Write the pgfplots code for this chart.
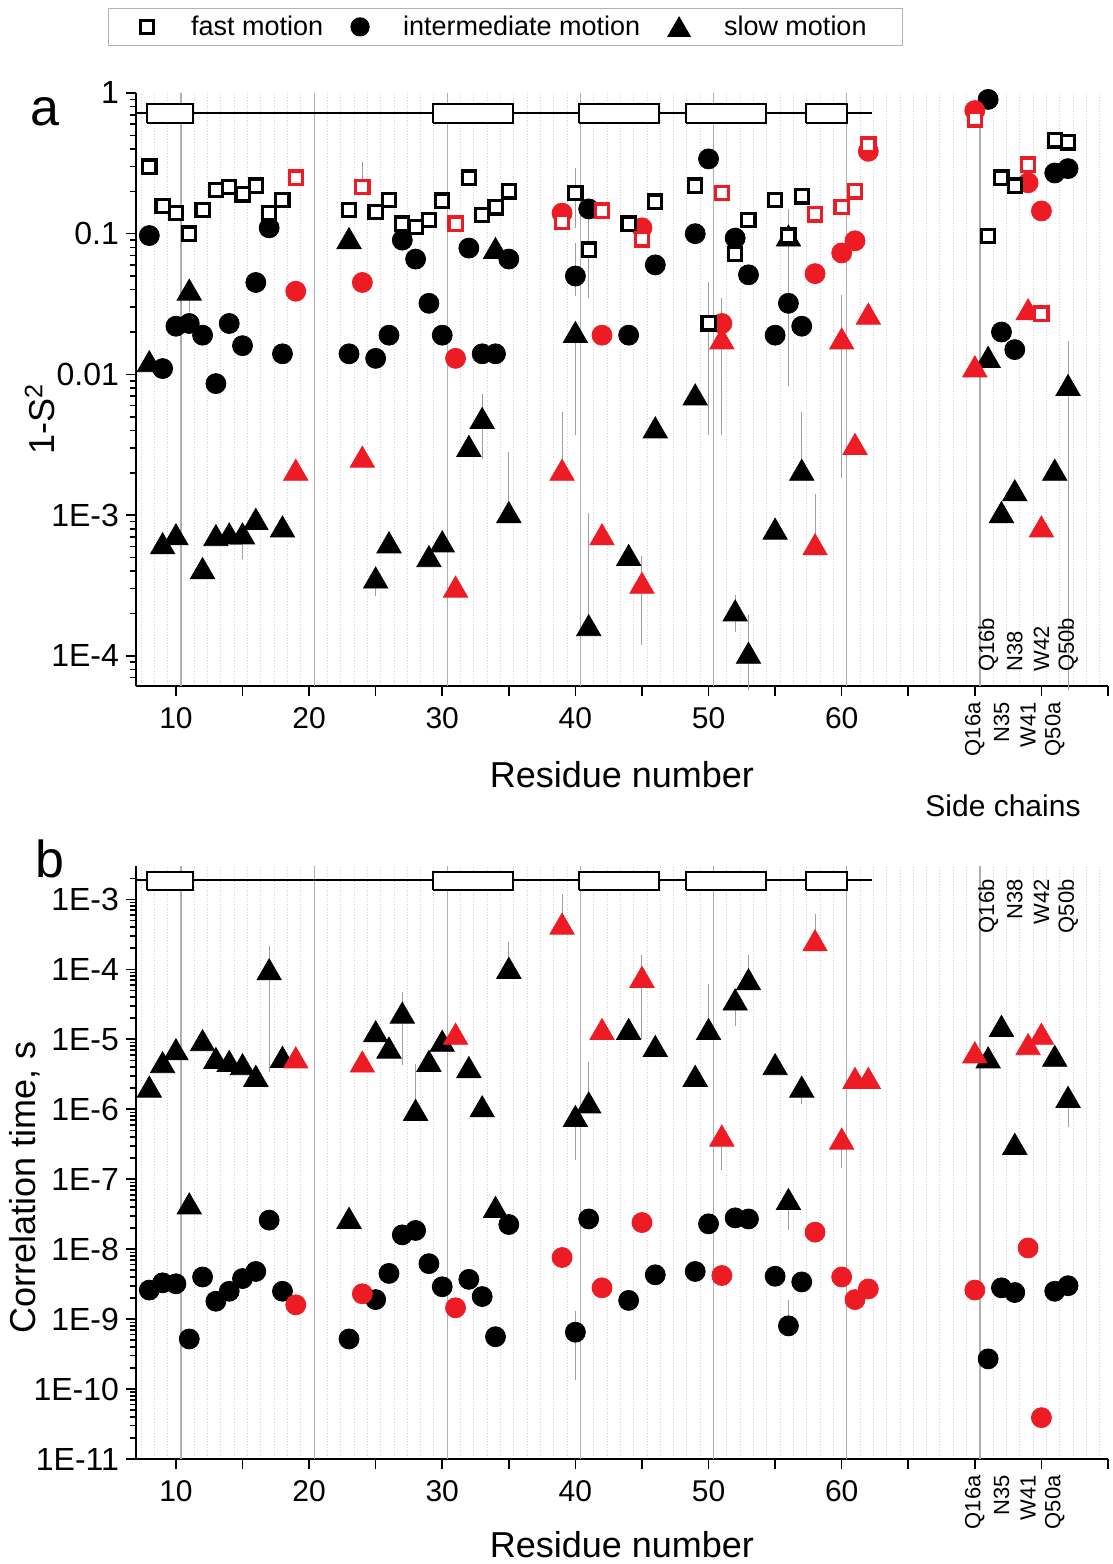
\documentclass[border=0pt]{standalone}
\usepackage{fontspec}
\setmainfont{Liberation Sans}
\usepackage{pgfplots}
\pgfplotsset{compat=1.18}
\definecolor{myred}{RGB}{237,28,36}
\definecolor{gridmaj}{RGB}{175,175,175}
\definecolor{gridmin}{RGB}{210,210,210}
\newcommand{\sidefont}{\fontsize{11}{13}\selectfont}
\begin{document}
\begin{tikzpicture}
\path[use as bounding box] (-68pt,-52.5pt) rectangle (488.5pt,729.5pt);
% ---------------- panel a ----------------
\begin{axis}[
  at={(0pt,386.5pt)}, anchor=south west,
  scale only axis, width=486pt, height=296.5pt,
  xmin=7, xmax=80, ymode=log, ymin=6.1e-5, ymax=1, clip=false,
  axis x line*=bottom, axis y line*=left,
  axis line style={line width=1pt, black},
  tick align=outside, major tick length=5pt, minor tick length=0pt,
  tick style={black, line width=0.8pt},
  xtick={10,15,...,80},
  xticklabels={10,,20,,30,,40,,50,,60,,,,},
  minor xtick={7.38,8.38,...,79.38},
  xminorgrids=true,
  minor x grid style={gridmin, densely dotted, line width=0.5pt},
  extra x ticks={10.38,20.38,30.38,40.38,50.38,60.38,70.38},
  extra x tick labels={},
  extra x tick style={grid=major, major tick length=0pt},
  major x grid style={gridmaj, line width=0.6pt},
  ytick={1e-4,1e-3,0.01,0.1,1},
  yticklabels={1E-4,1E-3,0.01,0.1,1},
  extra y ticks={7e-5,8e-5,9e-5,2e-4,3e-4,4e-4,5e-4,6e-4,7e-4,8e-4,9e-4,2e-3,3e-3,4e-3,5e-3,6e-3,7e-3,8e-3,9e-3,0.02,0.03,0.04,0.05,0.06,0.07,0.08,0.09,0.2,0.3,0.4,0.5,0.6,0.7,0.8,0.9},
  extra y tick labels={},
  extra y tick style={major tick length=3pt},
  xticklabel style={font=\fontsize{15}{18}\selectfont, yshift=-2pt},
  yticklabel style={font=\fontsize{16}{19}\selectfont},
  ylabel={1-S\textsuperscript{2}},
  ylabel style={font=\fontsize{18}{21}\selectfont, at={(axis description cs:-0.0988,0.45)}, anchor=center},
  xlabel={Residue number},
  xlabel style={font=\fontsize{18}{21}\selectfont, at={(axis description cs:0.5,0)}, anchor=center, yshift=-44.5pt},
  legend columns=3,
  legend style={at={(-0.0288,1.1433)}, anchor=north west, draw=gray!60, line width=0.6pt,
     font=\fontsize{13.5}{16}\selectfont, inner xsep=16pt, inner ysep=1.5pt, column sep=12pt},
]
\addlegendimage{only marks, mark=square*, mark size=3.1pt, mark options={fill=white, draw=black, line width=1.5pt}}
\addlegendentry{\hspace{5pt}fast motion}
\addlegendimage{only marks, mark=*, mark size=4.5pt, mark options={fill=black, draw=black}}
\addlegendentry{\hspace{3pt}intermediate motion}
\addlegendimage{only marks, mark=triangle*, mark size=6.3pt, mark options={fill=black, draw=black, yshift=-1.5pt}}
\addlegendentry{\hspace{3pt}slow motion}
% secondary structure
\addplot[black, line width=1pt, forget plot] coordinates {(7,0.72) (62.3,0.72)};
\addplot[draw=black, fill=white, line width=1pt, forget plot] coordinates {(7.8,0.612) (11.3,0.612) (11.3,0.835) (7.8,0.835) (7.8,0.612)};
\addplot[draw=black, fill=white, line width=1pt, forget plot] coordinates {(29.3,0.612) (35.3,0.612) (35.3,0.835) (29.3,0.835) (29.3,0.612)};
\addplot[draw=black, fill=white, line width=1pt, forget plot] coordinates {(40.3,0.612) (46.3,0.612) (46.3,0.835) (40.3,0.835) (40.3,0.612)};
\addplot[draw=black, fill=white, line width=1pt, forget plot] coordinates {(48.3,0.612) (54.3,0.612) (54.3,0.835) (48.3,0.835) (48.3,0.612)};
\addplot[draw=black, fill=white, line width=1pt, forget plot] coordinates {(57.3,0.612) (60.4,0.612) (60.4,0.835) (57.3,0.835) (57.3,0.612)};
% error bars
\addplot[forget plot, only marks, mark=none, error bars/.cd, y dir=both, y explicit,
   error bar style={draw=gray!75, line width=0.5pt},
   error mark options={draw=gray!75, mark size=2.5pt, line width=0.5pt}] coordinates {
 (24,0.215) += (0,0.085) -= (0,0)
 (40,0.194) += (0,0.076) -= (0,0.075)
 (40,0.05) += (0,0.029) -= (0,0.011)
 (40,0.02) += (0,0) -= (0,0.016)
 (41,0.077) += (0,0.043) -= (0,0.039)
 (50,0.023) += (0,0.019) -= (0,0.019)
 (51,0.018) += (0,0.014) -= (0,0.014)
 (56,0.097) += (0,0.04) -= (0,0.088)
 (60,0.018) += (0,0.016) -= (0,0.016)
 (11,0.04) += (0,0) -= (0,0.01)
 (15,7.4e-4) += (0,0) -= (0,2.1e-4)
 (25,3.6e-4) += (0,0) -= (0,0.7e-4)
 (33,4.9e-3) += (0,1.8e-3) -= (0,2.2e-3)
 (35,1.05e-3) += (0,1.55e-3) -= (0,0)
 (39,2.1e-3) += (0,2.9e-3) -= (0,0)
 (41,1.65e-4) += (0,7.85e-4) -= (0,0)
 (45,3.3e-4) += (0,1.4e-4) -= (0,2e-4)
 (52,2.1e-4) += (0,0.4e-4) -= (0,0.5e-4)
 (53,1.05e-4) += (0,0.75e-4) -= (0,0.43e-4)
 (57,2.1e-3) += (0,2.9e-3) -= (0,0)
 (58,6.2e-4) += (0,6.8e-4) -= (0,0)
 (77,8.4e-3) += (0,7.6e-3) -= (0,8.338e-3)
};
% slow motion
\addplot[forget plot, only marks, mark=triangle*, mark size=7pt, mark options={fill=black, draw=black, yshift=-1.75pt}] coordinates {
 (8,0.0124) (9,6.3e-4) (10,7.3e-4) (11,0.04) (12,4.2e-4) (13,7.2e-4) (14,7.4e-4) (15,7.4e-4)
 (16,9.4e-4) (18,8.3e-4) (23,0.093) (25,3.6e-4) (26,6.4e-4) (29,5.1e-4) (30,6.5e-4)
 (32,3.1e-3) (33,4.9e-3) (34,0.079) (35,1.05e-3) (40,0.02) (41,1.65e-4) (44,5.2e-4)
 (46,4.2e-3) (49,7.2e-3) (52,2.1e-4) (53,1.05e-4) (55,8e-4) (56,0.097) (57,2.1e-3)
 (71,0.0133) (72,1.05e-3) (73,1.5e-3) (76,2.1e-3) (77,8.4e-3)};
\addplot[forget plot, only marks, mark=triangle*, mark size=7pt, mark options={fill=myred, draw=myred, yshift=-1.75pt}] coordinates {
 (19,2.1e-3) (24,2.6e-3) (31,3.1e-4) (39,2.1e-3) (42,7.3e-4) (45,3.3e-4) (51,0.018)
 (58,6.2e-4) (60,0.018) (61,3.2e-3) (62,0.027) (70,0.0114) (74,0.029) (75,8.3e-4)};
% intermediate motion
\addplot[forget plot, only marks, mark=*, mark size=5pt, mark options={fill=black, draw=black}] coordinates {
 (8,0.097) (9,0.011) (10,0.022) (11,0.023) (12,0.019) (13,0.0086) (14,0.023) (15,0.016)
 (16,0.045) (17,0.11) (18,0.014) (23,0.014) (25,0.013) (26,0.019) (27,0.09) (28,0.066)
 (29,0.032) (30,0.019) (32,0.079) (33,0.014) (34,0.014) (35,0.066) (40,0.05) (41,0.15)
 (44,0.019) (46,0.06) (49,0.10) (50,0.34) (52,0.093) (53,0.051) (55,0.019) (56,0.032)
 (57,0.022) (71,0.90) (72,0.020) (73,0.015) (76,0.27) (77,0.29)};
\addplot[forget plot, only marks, mark=*, mark size=5pt, mark options={fill=myred, draw=myred}] coordinates {
 (19,0.039) (24,0.045) (31,0.013) (39,0.14) (42,0.019) (45,0.11) (51,0.023) (58,0.052)
 (60,0.073) (61,0.089) (62,0.385) (70,0.75) (74,0.23) (75,0.145)};
% fast motion
\addplot[forget plot, only marks, mark=square*, mark size=3.3pt, mark options={fill=white, draw=black, line width=1.6pt}] coordinates {
 (8,0.30) (9,0.157) (10,0.14) (11,0.10) (12,0.148) (13,0.205) (14,0.215) (15,0.19)
 (16,0.22) (17,0.14) (18,0.174) (23,0.148) (25,0.142) (26,0.174) (27,0.118) (28,0.112)
 (29,0.125) (30,0.172) (32,0.25) (33,0.136) (34,0.154) (35,0.20) (40,0.194) (41,0.077)
 (44,0.118) (46,0.169) (49,0.22) (50,0.023) (52,0.072) (53,0.125) (55,0.174) (56,0.097)
 (57,0.184) (71,0.096) (72,0.25) (73,0.22) (76,0.46) (77,0.445)};
\addplot[forget plot, only marks, mark=square*, mark size=3.3pt, mark options={fill=white, draw=myred, line width=1.6pt}] coordinates {
 (19,0.25) (24,0.215) (31,0.118) (39,0.122) (42,0.146) (45,0.091) (51,0.194) (58,0.137)
 (60,0.155) (61,0.20) (62,0.43) (70,0.65) (74,0.31) (75,0.027)};
% annotations
\node[font=\fontsize{26}{30}\selectfont] at (rel axis cs:-0.0936,0.968) {a};
\node[font=\fontsize{15}{18}\selectfont] at (rel axis cs:0.892,-0.2024) {Side chains};
\node[yshift=-8pt, rotate=90, anchor=east, inner sep=0pt, font=\sidefont] at (axis cs:70,6.1e-5) {Q16a};
\node[yshift=-8pt, rotate=90, anchor=east, inner sep=0pt, font=\sidefont] at (axis cs:72,6.1e-5) {N35};
\node[yshift=-8pt, rotate=90, anchor=east, inner sep=0pt, font=\sidefont] at (axis cs:74,6.1e-5) {W41};
\node[yshift=-8pt, rotate=90, anchor=east, inner sep=0pt, font=\sidefont] at (axis cs:76,6.1e-5) {Q50a};
\node[yshift=7pt, rotate=90, anchor=west, inner sep=0pt, font=\sidefont] at (axis cs:71,6.1e-5) {Q16b};
\node[yshift=7pt, rotate=90, anchor=west, inner sep=0pt, font=\sidefont] at (axis cs:73,6.1e-5) {N38};
\node[yshift=7pt, rotate=90, anchor=west, inner sep=0pt, font=\sidefont] at (axis cs:75,6.1e-5) {W42};
\node[yshift=7pt, rotate=90, anchor=west, inner sep=0pt, font=\sidefont] at (axis cs:77,6.1e-5) {Q50b};
\end{axis}
% ---------------- panel b ----------------
\begin{axis}[
  at={(0pt,0pt)}, anchor=south west,
  scale only axis, width=486pt, height=296.5pt,
  xmin=7, xmax=80, ymode=log, ymin=1e-11, ymax=3e-3, clip=false,
  axis x line*=bottom, axis y line*=left,
  axis line style={line width=1pt, black},
  tick align=outside, major tick length=5pt, minor tick length=0pt,
  tick style={black, line width=0.8pt},
  xtick={10,15,...,80},
  xticklabels={10,,20,,30,,40,,50,,60,,,,},
  minor xtick={7.38,8.38,...,79.38},
  xminorgrids=true,
  minor x grid style={gridmin, densely dotted, line width=0.5pt},
  extra x ticks={10.38,20.38,30.38,40.38,50.38,60.38,70.38},
  extra x tick labels={},
  extra x tick style={grid=major, major tick length=0pt},
  major x grid style={gridmaj, line width=0.6pt},
  ytick={1e-11,1e-10,1e-9,1e-8,1e-7,1e-6,1e-5,1e-4,1e-3},
  yticklabels={1E-11,1E-10,1E-9,1E-8,1E-7,1E-6,1E-5,1E-4,1E-3},
  extra y ticks={2e-11,3e-11,4e-11,5e-11,6e-11,7e-11,8e-11,9e-11,
    2e-10,3e-10,4e-10,5e-10,6e-10,7e-10,8e-10,9e-10,
    2e-9,3e-9,4e-9,5e-9,6e-9,7e-9,8e-9,9e-9,
    2e-8,3e-8,4e-8,5e-8,6e-8,7e-8,8e-8,9e-8,
    2e-7,3e-7,4e-7,5e-7,6e-7,7e-7,8e-7,9e-7,
    2e-6,3e-6,4e-6,5e-6,6e-6,7e-6,8e-6,9e-6,
    2e-5,3e-5,4e-5,5e-5,6e-5,7e-5,8e-5,9e-5,
    2e-4,3e-4,4e-4,5e-4,6e-4,7e-4,8e-4,9e-4,2e-3},
  extra y tick labels={},
  extra y tick style={major tick length=3pt},
  xticklabel style={font=\fontsize{15}{18}\selectfont, yshift=-2pt},
  yticklabel style={font=\fontsize{16}{19}\selectfont},
  ylabel={Correlation time, s},
  ylabel style={font=\fontsize{18}{21}\selectfont, at={(axis description cs:-0.114,0.458)}, anchor=center},
  xlabel={Residue number},
  xlabel style={font=\fontsize{18}{21}\selectfont, at={(axis description cs:0.5,0)}, anchor=center, yshift=-43pt},
]
\addplot[black, line width=1pt, forget plot] coordinates {(7,1.87e-3) (62.3,1.87e-3)};
\addplot[draw=black, fill=white, line width=1pt, forget plot] coordinates {(7.8,1.35e-3) (11.3,1.35e-3) (11.3,2.5e-3) (7.8,2.5e-3) (7.8,1.35e-3)};
\addplot[draw=black, fill=white, line width=1pt, forget plot] coordinates {(29.3,1.35e-3) (35.3,1.35e-3) (35.3,2.5e-3) (29.3,2.5e-3) (29.3,1.35e-3)};
\addplot[draw=black, fill=white, line width=1pt, forget plot] coordinates {(40.3,1.35e-3) (46.3,1.35e-3) (46.3,2.5e-3) (40.3,2.5e-3) (40.3,1.35e-3)};
\addplot[draw=black, fill=white, line width=1pt, forget plot] coordinates {(48.3,1.35e-3) (54.3,1.35e-3) (54.3,2.5e-3) (48.3,2.5e-3) (48.3,1.35e-3)};
\addplot[draw=black, fill=white, line width=1pt, forget plot] coordinates {(57.3,1.35e-3) (60.4,1.35e-3) (60.4,2.5e-3) (57.3,2.5e-3) (57.3,1.35e-3)};
\addplot[forget plot, only marks, mark=none, error bars/.cd, y dir=both, y explicit,
   error bar style={draw=gray!75, line width=0.5pt},
   error mark options={draw=gray!75, mark size=2.5pt, line width=0.5pt}] coordinates {
 (17,1e-4) += (0,0.8e-4) -= (0,0.96e-4)
 (27,2.4e-5) += (0,1.6e-5) -= (0,1.9e-5)
 (28,9.8e-7) += (0,2.8e-6) -= (0,0)
 (35,1.05e-4) += (0,1.05e-4) -= (0,0)
 (39,4.5e-4) += (0,5.5e-4) -= (0,0)
 (40,8e-7) += (0,0) -= (0,5.8e-7)
 (40,6.5e-10) += (0,4.5e-10) -= (0,4.9e-10)
 (41,1.25e-6) += (0,2.75e-6) -= (0,0)
 (45,7.8e-5) += (0,5.8e-5) -= (0,6.6e-5)
 (50,1.4e-5) += (0,3.9e-5) -= (0,0)
 (52,3.7e-5) += (0,0) -= (0,1.9e-5)
 (53,7.2e-5) += (0,6.4e-5) -= (0,0)
 (51,4.2e-7) += (0,0) -= (0,2.6e-7)
 (56,5.2e-8) += (0,0) -= (0,3e-8)
 (56,8e-10) += (0,8e-10) -= (0,0)
 (58,2.6e-4) += (0,2.6e-4) -= (0,0)
 (60,3.8e-7) += (0,0) -= (0,2.1e-7)
 (77,1.5e-6) += (0,0) -= (0,8.5e-7)
 (57,2.1e-6) += (0,0) -= (0,0.7e-6)
};
\addplot[forget plot, only marks, mark=triangle*, mark size=7pt, mark options={fill=black, draw=black, yshift=-1.75pt}] coordinates {
 (8,2.1e-6) (9,4.7e-6) (10,7.2e-6) (11,4.5e-8) (12,9.7e-6) (13,5.4e-6) (14,4.9e-6)
 (15,4.4e-6) (16,3.0e-6) (17,1.0e-4) (18,5.6e-6) (23,2.8e-8) (25,1.3e-5) (26,7.6e-6)
 (27,2.4e-5) (28,9.8e-7) (29,4.9e-6) (30,9.5e-6) (32,4.0e-6) (33,1.1e-6) (34,4.0e-8)
 (35,1.05e-4) (40,8.0e-7) (41,1.25e-6) (44,1.4e-5) (46,8.0e-6) (49,3.0e-6) (50,1.4e-5)
 (52,3.7e-5) (53,7.2e-5) (55,4.4e-6) (56,5.2e-8) (57,2.1e-6) (71,5.5e-6) (72,1.55e-5)
 (73,3.2e-7) (76,5.8e-6) (77,1.5e-6)};
\addplot[forget plot, only marks, mark=triangle*, mark size=7pt, mark options={fill=myred, draw=myred, yshift=-1.75pt}] coordinates {
 (19,5.5e-6) (24,4.8e-6) (31,1.2e-5) (39,4.5e-4) (42,1.4e-5) (45,7.8e-5) (51,4.2e-7)
 (58,2.6e-4) (60,3.8e-7) (61,2.8e-6) (62,2.8e-6) (70,6.5e-6) (74,8.5e-6) (75,1.2e-5)};
\addplot[forget plot, only marks, mark=*, mark size=5pt, mark options={fill=black, draw=black}] coordinates {
 (8,2.6e-9) (9,3.3e-9) (10,3.2e-9) (11,5.2e-10) (12,4.0e-9) (13,1.8e-9) (14,2.5e-9)
 (15,3.8e-9) (16,4.8e-9) (17,2.6e-8) (18,2.5e-9) (23,5.2e-10) (25,1.9e-9) (26,4.5e-9)
 (27,1.6e-8) (28,1.85e-8) (29,6.2e-9) (30,2.9e-9) (32,3.7e-9) (33,2.1e-9) (34,5.6e-10)
 (35,2.25e-8) (40,6.5e-10) (41,2.7e-8) (44,1.85e-9) (46,4.3e-9) (49,4.8e-9) (50,2.3e-8)
 (52,2.8e-8) (53,2.7e-8) (55,4.1e-9) (56,8e-10) (57,3.4e-9) (71,2.7e-10) (72,2.8e-9)
 (73,2.4e-9) (76,2.5e-9) (77,3.0e-9)};
\addplot[forget plot, only marks, mark=*, mark size=5pt, mark options={fill=myred, draw=myred}] coordinates {
 (19,1.6e-9) (24,2.3e-9) (31,1.45e-9) (39,7.6e-9) (42,2.8e-9) (45,2.4e-8) (51,4.2e-9)
 (58,1.75e-8) (60,4.0e-9) (61,1.9e-9) (62,2.7e-9) (70,2.6e-9) (74,1.04e-8) (75,3.9e-11)};
\node[font=\fontsize{26}{30}\selectfont] at (rel axis cs:-0.0885,1.012) {b};
\node[yshift=-8pt, rotate=90, anchor=east, inner sep=0pt, font=\sidefont] at (axis cs:70,1e-11) {Q16a};
\node[yshift=-8pt, rotate=90, anchor=east, inner sep=0pt, font=\sidefont] at (axis cs:72,1e-11) {N35};
\node[yshift=-8pt, rotate=90, anchor=east, inner sep=0pt, font=\sidefont] at (axis cs:74,1e-11) {W41};
\node[yshift=-8pt, rotate=90, anchor=east, inner sep=0pt, font=\sidefont] at (axis cs:76,1e-11) {Q50a};
\node[yshift=-6.5pt, rotate=90, anchor=east, inner sep=0pt, font=\sidefont] at (axis cs:71,3e-3) {Q16b};
\node[yshift=-6.5pt, rotate=90, anchor=east, inner sep=0pt, font=\sidefont] at (axis cs:73,3e-3) {N38};
\node[yshift=-6.5pt, rotate=90, anchor=east, inner sep=0pt, font=\sidefont] at (axis cs:75,3e-3) {W42};
\node[yshift=-6.5pt, rotate=90, anchor=east, inner sep=0pt, font=\sidefont] at (axis cs:77,3e-3) {Q50b};
\end{axis}
\end{tikzpicture}
\end{document}
